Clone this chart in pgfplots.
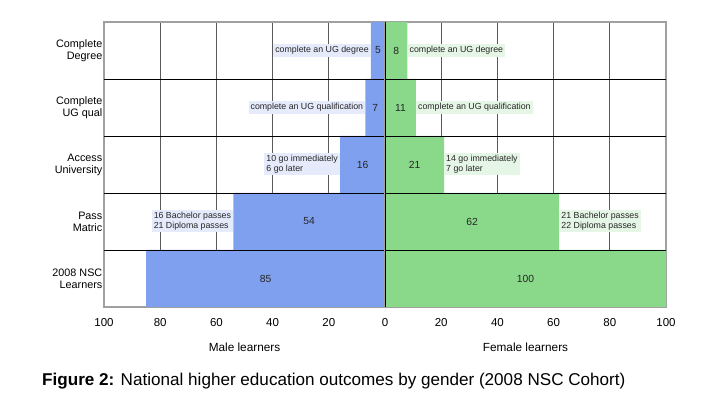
\documentclass[border=0pt]{standalone}
\usepackage{fontspec}
\setmainfont{Liberation Sans}
\usepackage{pgfplots}
\pgfplotsset{compat=1.18}
\definecolor{maleblue}{RGB}{127,160,238}
\definecolor{femgreen}{RGB}{138,216,138}
\definecolor{lblue}{RGB}{229,235,251}
\definecolor{lgreen}{RGB}{230,246,230}
\definecolor{gridc}{RGB}{90,90,90}
\definecolor{framec}{RGB}{160,160,160}
\pgfplotsset{
  pyr/.style={
    scale only axis, width=281pt, height=285pt,
    xmin=0, xmax=100, ymin=-0.5, ymax=4.5,
    xbar, bar width=1,
    ytick={0,1,2,3,4},
    xmajorgrids, grid style={gridc, line width=0.7pt},
    axis line style={framec, line width=1.2pt},
    major tick length=0pt,
    /pgf/number format/assume math mode=true,
    xticklabel style={font=\fontsize{11.5}{13}\selectfont, anchor=center, yshift=-16pt},
    xlabel style={font=\fontsize{11.8}{13}\selectfont, at={(axis description cs:0.5,0)}, anchor=center, yshift=-40pt},
    clip=false,
  },
}
\tikzset{
  ann/.style={inner sep=2pt, font=\fontsize{8.8}{9.8}\selectfont, align=left, text=black!85},
  val/.style={font=\fontsize{10.3}{12}\selectfont, text=black!85},
}
\begin{document}
\begin{tikzpicture}[x=1pt,y=1pt]
\path (0,0) rectangle (725,393);
% Male
\begin{axis}[pyr, at={(104pt,86pt)}, anchor=south west, x dir=reverse,
  xtick={0,20,40,60,80,100},
  xlabel={Male learners},
  yticklabels={{2008 NSC\\Learners},{Pass\\Matric},{Access\\University},{Complete\\UG qual},{Complete\\Degree}},
  yticklabel style={font=\fontsize{10.8}{12}\selectfont, align=right, inner sep=1.5pt}]
\addplot[fill=maleblue, draw=none] coordinates {(85,0) (54,1) (16,2) (7,3) (5,4)};
\draw[black, line width=0.8pt] (axis cs:100,0.5) -- (axis cs:0,0.5);
\draw[black, line width=0.8pt] (axis cs:100,1.5) -- (axis cs:0,1.5);
\draw[black, line width=0.8pt] (axis cs:100,2.5) -- (axis cs:0,2.5);
\draw[black, line width=0.8pt] (axis cs:100,3.5) -- (axis cs:0,3.5);
\node[val] at (axis cs:42.5,0) {85};
\node[val] at (axis cs:27,1) {54};
\node[val] at (axis cs:8,2) {16};
\node[val] at (axis cs:3.5,3) {7};
\node[val] at (axis cs:2.5,4) {5};
\node[ann, fill=lblue, anchor=east] at (axis cs:5,4) {complete an UG degree};
\node[ann, fill=lblue, anchor=east] at (axis cs:7,3) {complete an UG qualification};
\node[ann, fill=lblue, anchor=east] at (axis cs:16,2) {10 go immediately\\6 go later};
\node[ann, fill=lblue, anchor=east] at (axis cs:54,1) {16 Bachelor passes\\21 Diploma passes};
\end{axis}
% Female
\begin{axis}[pyr, at={(385pt,86pt)}, anchor=south west,
  xtick={20,40,60,80,100},
  xlabel={Female learners}, yticklabels={}]
\addplot[fill=femgreen, draw=none] coordinates {(100,0) (62,1) (21,2) (11,3) (8,4)};
\draw[black, line width=0.8pt] (axis cs:0,0.5) -- (axis cs:100,0.5);
\draw[black, line width=0.8pt] (axis cs:0,1.5) -- (axis cs:100,1.5);
\draw[black, line width=0.8pt] (axis cs:0,2.5) -- (axis cs:100,2.5);
\draw[black, line width=0.8pt] (axis cs:0,3.5) -- (axis cs:100,3.5);
\node[val] at (axis cs:50,0) {100};
\node[val] at (axis cs:31,1) {62};
\node[val] at (axis cs:10.5,2) {21};
\node[val] at (axis cs:5.5,3) {11};
\node[val] at (axis cs:4,4) {8};
\node[ann, fill=lgreen, anchor=west] at (axis cs:8,4) {complete an UG degree};
\node[ann, fill=lgreen, anchor=west] at (axis cs:11,3) {complete an UG qualification};
\node[ann, fill=lgreen, anchor=west] at (axis cs:21,2) {14 go immediately\\7 go later};
\node[ann, fill=lgreen, anchor=west] at (axis cs:62,1) {21 Bachelor passes\\22 Diploma passes};
\draw[black, line width=1pt] (axis cs:0,-0.5) -- (axis cs:0,4.5);
\end{axis}
\node[anchor=base west, font=\fontsize{17.1}{19}\selectfont, inner sep=0pt] at (42pt,7pt) {\textbf{Figure 2:} National higher education outcomes by gender (2008 NSC Cohort)};
\end{tikzpicture}
\end{document}
